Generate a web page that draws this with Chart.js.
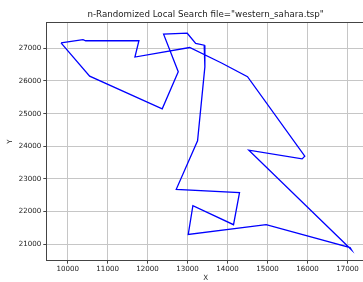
<!DOCTYPE html>
<html>
<head>
<meta charset="utf-8">
<script src="https://cdn.jsdelivr.net/npm/chart.js@4"></script>
<style>
  html, body { margin: 0; padding: 0; background: #fff; overflow: hidden; }
  #wrap { width: 365px; height: 282px; }
</style>
</head>
<body>
<div id="wrap"><canvas id="tourChart" width="365" height="282"></canvas></div>
<script>
// tour order (city coordinates)
const tourX = [9833, 10550, 12366, 12767, 12400, 12992, 13203, 13416, 13433, 13250,
               12717, 14300, 14150, 13133, 13017, 14967, 17067, 17100, 14533, 15867,
               15933, 14500, 13850, 13052, 11683, 11783, 10450, 10383, 9833];
const tourY = [27167, 26150, 25149, 26283, 27433, 27463, 27154, 27096, 26433, 24167,
               22683, 22583, 21600, 22183, 21300, 21600, 20900, 20833, 23883, 23617,
               23700, 26133, 26550, 27026, 26733, 27233, 27233, 27267, 27167];

const xTicks = [10000, 11000, 12000, 13000, 14000, 15000, 16000, 17000];
const yTicks = [21000, 22000, 23000, 24000, 25000, 26000, 27000];

const titulo = 'n-Randomized Local Search file="western_sahara.tsp"';
const fonte = 'DejaVu Sans';
const corTexto = '#222';
const corGrade = '#c6c6c6';
const corEixo = '#444';

// moldura (spines) em volta da área do gráfico
const moldura = {
    id: 'moldura',
    afterDraw(chart){
        const {ctx, chartArea: a} = chart;
        ctx.save();
        ctx.strokeStyle = corEixo;
        ctx.lineWidth = 1;
        ctx.strokeRect(Math.round(a.left) + 0.5, Math.round(a.top) + 0.5,
                       Math.round(a.right - a.left), Math.round(a.bottom - a.top));
        ctx.restore();
    }
};

const pontos = tourX.map((x, i) => ({x: x, y: tourY[i]}));

new Chart(document.getElementById('tourChart').getContext('2d'), {
    type: 'scatter',
    data: {
        datasets: [{
            data: pontos,
            showLine: true,
            borderColor: '#0000ff',
            borderWidth: 1.3,
            pointRadius: 0,
            fill: false,
            tension: 0
        }]
    },
    options: {
        responsive: false,
        animation: false,
        layout: { padding: 0 },
        plugins: {
            legend: { display: false },
            tooltip: { enabled: false },
            title: {
                display: true,
                text: titulo,
                fullSize: false,
                color: corTexto,
                font: { family: fonte, size: 8.7, weight: 'normal' },
                padding: { top: 9.3, bottom: 2.6 }
            }
        },
        scales: {
            x: {
                type: 'linear',
                min: 9465,
                max: 17440,
                afterBuildTicks: s => { s.ticks = xTicks.map(v => ({value: v})); },
                afterFit: s => { s.height = 21.3; },
                grid: { color: corGrade, tickColor: corEixo, tickLength: 3, lineWidth: 1 },
                border: { display: false },
                ticks: { color: corTexto, font: { family: fonte, size: 7.1 }, padding: 1.5, maxRotation: 0,
                         callback: v => String(v) },
                title: { display: true, text: 'X', color: corTexto,
                         font: { family: fonte, size: 7.1 }, padding: { top: 0, bottom: 0 } }
            },
            y: {
                type: 'linear',
                min: 20498,
                max: 27796,
                afterBuildTicks: s => { s.ticks = yTicks.map(v => ({value: v})); },
                afterFit: s => { s.width = 46.3; },
                grid: { color: corGrade, tickColor: corEixo, tickLength: 3, lineWidth: 1 },
                border: { display: false },
                ticks: { color: corTexto, font: { family: fonte, size: 7.1 }, padding: 2,
                         callback: v => String(v) },
                title: { display: true, text: 'Y', color: corTexto,
                         font: { family: fonte, size: 7.1 }, padding: { top: 5.7, bottom: 0 } }
            }
        }
    },
    plugins: [moldura]
});
</script>
</body>
</html>
